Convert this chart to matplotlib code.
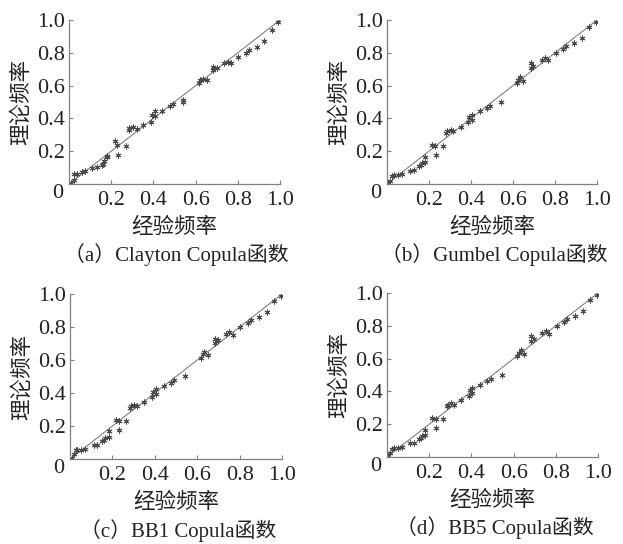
import matplotlib
matplotlib.use('Agg')
import matplotlib.pyplot as plt

plt.rcParams['font.family'] = ['Liberation Serif', 'Noto Sans CJK SC', 'DejaVu Sans']

# empirical frequencies (shared x) and theoretical frequencies per copula
x_clayton = [0.010, 0.024, 0.024, 0.040, 0.060, 0.076, 0.107, 0.131, 0.155, 0.163,
             0.166, 0.178, 0.182, 0.218, 0.229, 0.234, 0.269, 0.286, 0.286, 0.305,
             0.320, 0.352, 0.387, 0.392, 0.408, 0.408, 0.442, 0.479, 0.491, 0.542,
             0.542, 0.616, 0.621, 0.637, 0.652, 0.684, 0.684, 0.700, 0.735, 0.752,
             0.768, 0.803, 0.837, 0.855, 0.889, 0.926, 0.960, 0.992]
y_clayton = [0.006, 0.026, 0.063, 0.059, 0.071, 0.077, 0.100, 0.103, 0.114, 0.124,
             0.138, 0.162, 0.172, 0.260, 0.240, 0.178, 0.233, 0.327, 0.341, 0.347,
             0.335, 0.357, 0.377, 0.422, 0.442, 0.412, 0.448, 0.473, 0.485, 0.501,
             0.515, 0.615, 0.635, 0.641, 0.631, 0.716, 0.696, 0.706, 0.736, 0.746,
             0.740, 0.777, 0.801, 0.817, 0.838, 0.874, 0.939, 0.986]

x_gumbel = [0.005, 0.016, 0.024, 0.035, 0.051, 0.071, 0.111, 0.127, 0.150, 0.161,
            0.166, 0.182, 0.182, 0.215, 0.230, 0.231, 0.266, 0.282, 0.288, 0.304,
            0.316, 0.351, 0.388, 0.391, 0.405, 0.405, 0.441, 0.475, 0.491, 0.543,
            0.617, 0.625, 0.633, 0.649, 0.684, 0.684, 0.696, 0.736, 0.752, 0.767,
            0.804, 0.839, 0.854, 0.891, 0.927, 0.962, 0.997]
y_gumbel = [0.006, 0.020, 0.047, 0.053, 0.053, 0.063, 0.081, 0.087, 0.107, 0.118,
            0.128, 0.132, 0.164, 0.237, 0.229, 0.174, 0.233, 0.310, 0.320, 0.330,
            0.320, 0.347, 0.375, 0.408, 0.422, 0.391, 0.442, 0.462, 0.477, 0.501,
            0.615, 0.635, 0.651, 0.629, 0.736, 0.706, 0.720, 0.757, 0.767, 0.753,
            0.801, 0.822, 0.844, 0.862, 0.892, 0.955, 0.990]

x_bb1 = [0.008, 0.020, 0.026, 0.035, 0.051, 0.071, 0.111, 0.127, 0.150, 0.161,
         0.166, 0.182, 0.182, 0.215, 0.230, 0.231, 0.266, 0.282, 0.288, 0.304,
         0.316, 0.351, 0.388, 0.391, 0.405, 0.405, 0.441, 0.475, 0.491, 0.543,
         0.617, 0.625, 0.633, 0.649, 0.684, 0.684, 0.696, 0.736, 0.752, 0.767,
         0.804, 0.839, 0.854, 0.891, 0.927, 0.962, 0.997]
y_bb1 = [0.008, 0.030, 0.052, 0.053, 0.053, 0.063, 0.084, 0.087, 0.107, 0.118,
         0.128, 0.132, 0.168, 0.237, 0.229, 0.178, 0.233, 0.310, 0.322, 0.330,
         0.320, 0.347, 0.375, 0.408, 0.422, 0.395, 0.442, 0.462, 0.477, 0.501,
         0.615, 0.635, 0.651, 0.629, 0.730, 0.704, 0.720, 0.757, 0.767, 0.753,
         0.801, 0.822, 0.844, 0.862, 0.892, 0.955, 0.990]

x_bb5 = [0.005, 0.016, 0.024, 0.035, 0.051, 0.071, 0.111, 0.127, 0.150, 0.161,
         0.166, 0.182, 0.182, 0.215, 0.230, 0.231, 0.266, 0.282, 0.288, 0.304,
         0.316, 0.351, 0.388, 0.391, 0.405, 0.405, 0.441, 0.475, 0.491, 0.543,
         0.617, 0.625, 0.633, 0.649, 0.684, 0.684, 0.696, 0.736, 0.752, 0.767,
         0.804, 0.839, 0.854, 0.891, 0.927, 0.962, 0.997]
y_bb5 = [0.008, 0.022, 0.049, 0.053, 0.053, 0.063, 0.083, 0.087, 0.107, 0.118,
         0.128, 0.132, 0.166, 0.237, 0.229, 0.176, 0.233, 0.310, 0.320, 0.330,
         0.320, 0.347, 0.375, 0.408, 0.422, 0.393, 0.442, 0.462, 0.477, 0.501,
         0.615, 0.635, 0.651, 0.629, 0.736, 0.706, 0.720, 0.757, 0.767, 0.753,
         0.801, 0.822, 0.844, 0.862, 0.892, 0.955, 0.990]

ticks = [0.2, 0.4, 0.6, 0.8, 1.0]
tick_labels = ['0.2', '0.4', '0.6', '0.8', '1.0']
captions = ['（a）Clayton Copula函数', '（b）Gumbel Copula函数',
            '（c）BB1 Copula函数', '（d）BB5 Copula函数']

panels = [
    (x_clayton, y_clayton, [0.1108, 0.6618, 0.3387, 0.3015]),
    (x_gumbel,  y_gumbel,  [0.6212, 0.6618, 0.3371, 0.3015]),
    (x_bb1,     y_bb1,     [0.1124, 0.1562, 0.3403, 0.3033]),
    (x_bb5,     y_bb5,     [0.6212, 0.1599, 0.3387, 0.3015]),
]

TXT = '#222222'
fig = plt.figure(figsize=(6.23, 5.44), dpi=100)

for (xs, ys, rect), cap in zip(panels, captions):
    ax = fig.add_axes(rect)
    ax.plot([0, 1], [0, 1], color='#808080', lw=0.8, zorder=1)
    ax.plot(xs, ys, linestyle='none', marker=(6, 2, 0), markersize=4.2,
            markeredgewidth=0.7, color='#4a4a4a', zorder=2)
    ax.set_xlim(0, 1.0)
    ax.set_ylim(0, 1.0)
    for s in ['top', 'right']:
        ax.spines[s].set_visible(False)
    for s in ['left', 'bottom']:
        ax.spines[s].set_color('#808080')
        ax.spines[s].set_linewidth(0.9)
    ax.set_xticks(ticks)
    ax.set_xticklabels(tick_labels)
    ax.set_yticks(ticks)
    ax.set_yticklabels(tick_labels)
    ax.tick_params(direction='in', length=3, width=0.8, color='#808080',
                   labelsize=16, labelcolor=TXT)
    ax.tick_params(axis='x', pad=5)
    ax.tick_params(axis='y', pad=3)
    ax.text(-0.055, -0.06, '0', transform=ax.transAxes, ha='center', va='center',
            fontsize=16, color=TXT)
    ax.text(0.5, -0.262, '经验频率', transform=ax.transAxes, ha='center', va='center',
            fontsize=15.5, color=TXT, family=['Noto Sans CJK SC'])
    ax.text(-0.228, 0.5, '理论频率', transform=ax.transAxes, ha='center', va='center',
            rotation=90, fontsize=15.5, color=TXT, family=['Noto Sans CJK SC'])
    ax.text(0.51, -0.433, cap, transform=ax.transAxes, ha='center', va='center',
            fontsize=15, color=TXT)

fig.savefig('out.png', dpi=100)
